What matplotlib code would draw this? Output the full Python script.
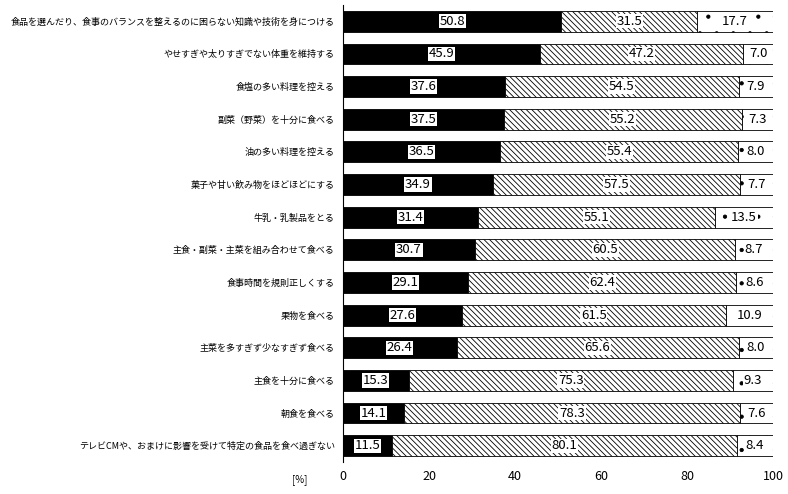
import matplotlib
matplotlib.use("Agg")
import matplotlib.pyplot as plt
plt.rcParams['font.family'] = 'Noto Sans CJK JP'
plt.rcParams['hatch.linewidth'] = 0.6

categories = ["食品を選んだり、食事のバランスを整えるのに困らない知識や技術を身につける",
 "やせすぎや太りすぎでない体重を維持する", "食塩の多い料理を控える", "副菜（野菜）を十分に食べる",
 "油の多い料理を控える", "菓子や甘い飲み物をほどほどにする", "牛乳・乳製品をとる",
 "主食・副菜・主菜を組み合わせて食べる", "食事時間を規則正しくする", "果物を食べる",
 "主菜を多すぎず少なすぎず食べる", "主食を十分に食べる", "朝食を食べる",
 "テレビCMや、おまけに影響を受けて特定の食品を食べ過ぎない"]
s1 = [50.8, 45.9, 37.6, 37.5, 36.5, 34.9, 31.4, 30.7, 29.1, 27.6, 26.4, 15.3, 14.1, 11.5]
s2 = [31.5, 47.2, 54.5, 55.2, 55.4, 57.5, 55.1, 60.5, 62.4, 61.5, 65.6, 75.3, 78.3, 80.1]
s3 = [17.7, 7.0, 7.9, 7.3, 8.0, 7.7, 13.5, 8.7, 8.6, 10.9, 8.0, 9.3, 7.6, 8.4]
xticks = [0, 20, 40, 60, 80, 100]

fig = plt.figure(figsize=(7.88, 4.94), dpi=100)
ax = fig.add_axes([343/788, 1-462/494, 430/788, 457/494])
y = list(range(len(categories)))
h = 0.64
ax.barh(y, s1, height=h, color='black', edgecolor='black', lw=0.6)
ax.barh(y, s2, left=s1, height=h, color='white', edgecolor='black', hatch='\\\\\\\\\\\\', lw=0.6)
left3 = [a+b for a, b in zip(s1, s2)]
ax.barh(y, s3, left=left3, height=h, color='white', edgecolor='black', hatch='.', lw=0.6)
box = dict(facecolor='white', edgecolor='none', pad=0.5)
for i in y:
    ax.text(s1[i]/2, i, f"{s1[i]:.1f}", ha='center', va='center', fontsize=9.5, bbox=box)
    ax.text(s1[i]+s2[i]/2, i, f"{s2[i]:.1f}", ha='center', va='center', fontsize=9.5, bbox=box)
    ax.text(left3[i]+s3[i]/2, i, f"{s3[i]:.1f}", ha='center', va='center', fontsize=9.5, bbox=box)
ax.set_ylim(len(categories)-0.5, -0.5)
ax.set_xlim(0, 100)
ax.set_yticks(y)
ax.set_yticklabels(categories, fontsize=6.5)
ax.set_xticks(xticks)
ax.set_xticklabels([str(t) for t in xticks], fontsize=9)
ax.tick_params(axis='y', length=0, pad=6)
ax.tick_params(axis='x', length=0, pad=6)
for s in ['top', 'right', 'bottom']:
    ax.spines[s].set_visible(False)
ax.spines['left'].set_linewidth(0.8)
fig.text(300/788, 1-480/494, "[%]", fontsize=7, ha='center', va='center')
fig.savefig("out.png", dpi=100)
